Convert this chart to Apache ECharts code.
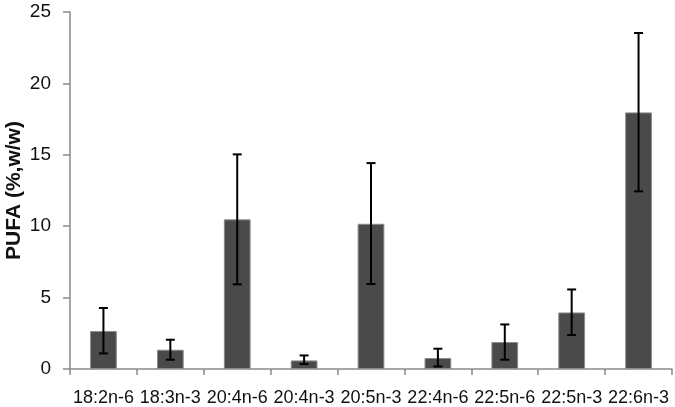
<!DOCTYPE html>
<html><head><meta charset="utf-8">
<script src="https://cdn.jsdelivr.net/npm/echarts@6/dist/echarts.min.js"></script>
<style>html,body{margin:0;padding:0;background:#fff}#c{width:675px;height:407px}</style>
</head><body><div id="c"></div>
<script>
const categories = ['18:2n-6','18:3n-3','20:4n-6','20:4n-3','20:5n-3','22:4n-6','22:5n-6','22:5n-3','22:6n-3'];
const means = [2.66, 1.35, 10.48, 0.6, 10.17, 0.77, 1.89, 3.96, 17.97];
const errHigh = [4.27, 2.05, 15.03, 0.95, 14.42, 1.42, 3.12, 5.57, 23.53];
const errLow = [1.09, 0.65, 5.93, 0.35, 5.95, 0.18, 0.65, 2.38, 12.44];
const yTicks = [0, 5, 10, 15, 20, 25];

const font = '"Liberation Sans", Arial';
const chart = echarts.init(document.getElementById('c'));
const errData = categories.map((c, i) => [i, errLow[i], errHigh[i]]);
chart.setOption({
  animation: false,
  grid: {left: 70, right: 3, top: 12, bottom: 38, containLabel: false, outerBoundsMode: 'none'},
  xAxis: {
    type: 'category', data: categories,
    axisLine: {lineStyle: {color: '#8a8a8a', width: 1.5}},
    axisTick: {show: true, length: 6, lineStyle: {color: '#8a8a8a', width: 1.5}},
    axisLabel: {color: '#111', fontSize: 18, fontFamily: font, margin: 20, interval: 0}
  },
  yAxis: {
    type: 'value', min: yTicks[0], max: yTicks[yTicks.length-1], interval: 5,
    name: 'PUFA (%,w/w)', nameLocation: 'middle', nameGap: 45, nameMoveOverlap: false,
    nameTextStyle: {fontSize: 21, fontWeight: 'bold', color: '#111', fontFamily: font},
    axisLine: {show: true, lineStyle: {color: '#8a8a8a', width: 1.5}},
    axisTick: {show: true, length: 7, lineStyle: {color: '#8a8a8a', width: 1.5}},
    splitLine: {show: false},
    axisLabel: {color: '#111', fontSize: 19, fontFamily: font, margin: 19}
  },
  series: [
    {
      type: 'bar', data: means, barWidth: '40%',
      itemStyle: {color: '#4a4a4a', borderColor: '#8c8c8c', borderWidth: 1}
    },
    {
      type: 'custom', data: errData, z: 10,
      renderItem: function (params, api) {
        const x = api.value(0);
        const lo = api.coord([x, api.value(1)]);
        const hi = api.coord([x, api.value(2)]);
        const hw = 4.5;
        const st = {stroke: '#000', lineWidth: 2};
        return {type: 'group', children: [
          {type: 'line', shape: {x1: hi[0], y1: hi[1], x2: lo[0], y2: lo[1]}, style: st},
          {type: 'line', shape: {x1: hi[0]-hw, y1: hi[1], x2: hi[0]+hw, y2: hi[1]}, style: st},
          {type: 'line', shape: {x1: lo[0]-hw, y1: lo[1], x2: lo[0]+hw, y2: lo[1]}, style: st}
        ]};
      }
    }
  ]
});
</script></body></html>
